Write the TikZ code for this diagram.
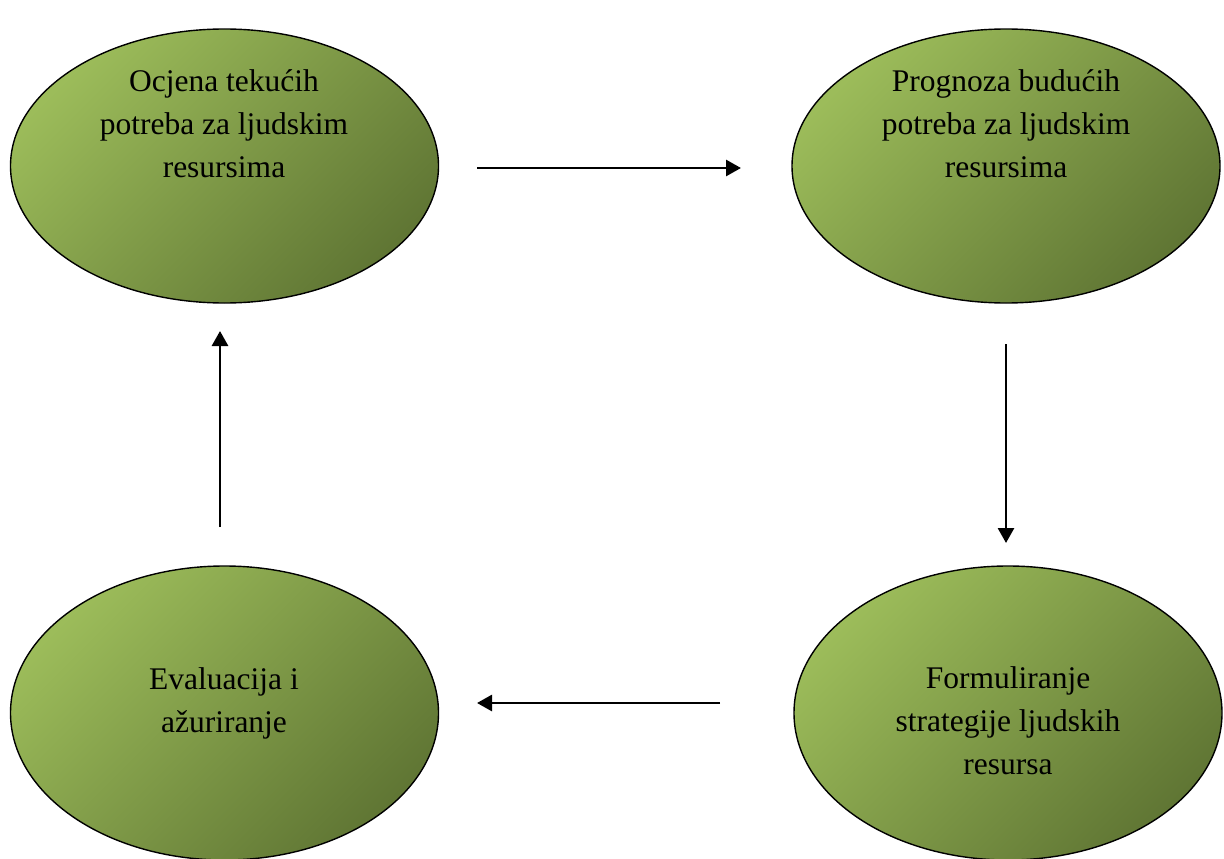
\documentclass[tikz,border=0pt]{standalone}
\usepackage{fontspec}
\setmainfont{Liberation Serif}
\usetikzlibrary{arrows.meta,shapes.geometric}
\definecolor{olivelight}{RGB}{156,188,90}
\definecolor{olivedark}{RGB}{96,118,52}
\tikzset{
    oval/.style={ellipse, draw=black, line width=1.4pt, inner sep=0pt,
        minimum width=428pt, minimum height=274pt,
        top color=olivelight, bottom color=olivedark, shading angle=45},
    txt/.style={anchor=base, align=center, inner sep=0pt,
        font=\fontsize{31.5}{43}\selectfont},
    flow/.style={line width=2.8pt, -{Triangle[length=15pt,width=16pt]}}
}
\begin{document}
\begin{tikzpicture}[x=1pt,y=-1pt]
            \useasboundingbox (0,0) rectangle (1224,859);
            \node[oval] (cur) at (224.5,166) {};
            \node[oval] (fut) at (1006,166) {};
            \node[oval, minimum height=294pt] (eval) at (224.5,713) {};
            \node[oval, minimum height=294pt] (strat) at (1008,713) {};
            % text sits above the centre, base = last line
            \node[txt] (curtxt) at (224,177) {Ocjena tekućih\\potreba za ljudskim\\resursima};
            \node[txt] (futtxt) at (1006,177) {Prognoza budućih\\potreba za ljudskim\\resursima};
            \node[txt] (evaltxt) at (224,732) {Evaluacija i\\ažuriranje};
            \node[txt] (strattxt) at (1008,774) {Formuliranje\\strategije ljudskih\\resursa};
            % arrow ends
            \coordinate (a1) at (477,168);
            \coordinate (a2) at (741,168);
            \coordinate (b1) at (1006,344);
            \coordinate (b2) at (1006,543);
            \coordinate (c1) at (720,703);
            \coordinate (c2) at (477,703);
            \coordinate (d1) at (220,527);
            \coordinate (d2) at (220,331);
            \foreach \s/\e in {a1/a2,b1/b2,c1/c2,d1/d2} {
                \draw[flow] (\s) -- (\e);
            }
        \end{tikzpicture}
\end{document}
